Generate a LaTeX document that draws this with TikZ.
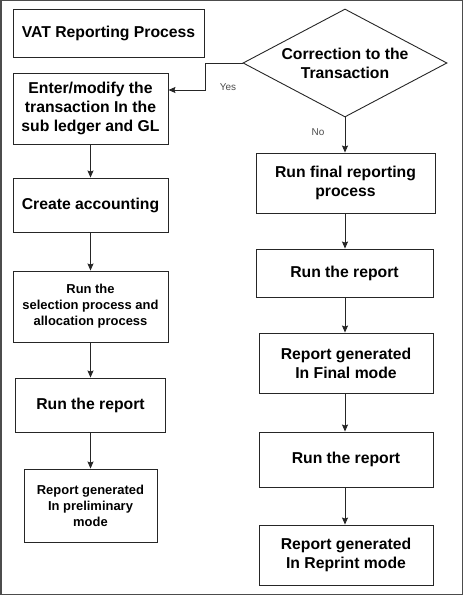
\documentclass[tikz,border=0pt]{standalone}
\usepackage{fontspec}
\setmainfont{Liberation Sans}
\usetikzlibrary{shapes.geometric,arrows.meta}

\begin{document}
\begin{tikzpicture}[x=1bp, y=-1bp,
    box/.style={shape=rectangle, draw=black!85, line width=0.9bp, align=center, inner sep=0pt, font=\bfseries\fontsize{15.8}{19}\selectfont},
    smallbox/.style={box, font=\bfseries\fontsize{13}{16}\selectfont},
    flow/.style={draw=black!85, line width=0.9bp, -{Stealth[length=7bp, width=6bp, inset=1bp]}},
    answer/.style={font=\fontsize{10}{12}\selectfont, text=black!70}]
    \draw[line width=1.5bp, draw=black!70] (0.75,0.75) rectangle (462.25,594.25);
    \useasboundingbox (0,0) rectangle (463,595);
    \node[box, minimum width=191bp, minimum height=48bp] (L0) at (108.5,33) {VAT Reporting Process};
    \node[box, minimum width=155bp, minimum height=71bp] (L1) at (90.5,108.5) {Enter/modify the\\transaction In the\\sub ledger and GL};
    \node[box, minimum width=155bp, minimum height=54bp] (L2) at (90.5,205) {Create accounting};
    \node[smallbox, minimum width=155bp, minimum height=71bp] (L3) at (90.5,306.5) {Run the\\selection process and\\allocation process};
    \node[box, minimum width=150bp, minimum height=54bp] (L4) at (90.5,405) {Run the report};
    \node[smallbox, minimum width=133bp, minimum height=73bp] (L5) at (90.5,505.5) {Report generated\\In preliminary\\mode};
    \node[shape=diamond, draw=black!85, line width=0.9bp, aspect=1.89, minimum width=204bp, minimum height=108bp, inner sep=0pt, align=center, font=\bfseries\fontsize{15.8}{19}\selectfont] (D) at (345,63) {Correction to the\\Transaction};
    \node[box, minimum width=179bp, minimum height=60bp] (R1) at (345.5,183) {Run final reporting\\process};
    \node[box, minimum width=177bp, minimum height=48bp] (R2) at (344.5,273) {Run the report};
    \node[box, minimum width=174bp, minimum height=60bp] (R3) at (346,363) {Report generated\\In Final mode};
    \node[box, minimum width=174bp, minimum height=55bp] (R4) at (346,459.5) {Run the report};
    \node[box, minimum width=174bp, minimum height=60bp] (R5) at (346,555) {Report generated\\In Reprint mode};
    \coordinate (Y) at (205,90);
    \draw[flow] (D.west) -| (Y) -- (Y -| L1.east);
        \node[answer] (YL) at (228,87) {Yes};
    \draw[flow] (D.south) -- (D.south |- R1.north);
        \node[answer] (NL) at (318,132) {No};
    \draw[flow] (L1) -- (L1 |- L2.north);
    \draw[flow] (L2) -- (L2 |- L3.north);
    \draw[flow] (L3) -- (L3 |- L4.north);
    \draw[flow] (L4) -- (L4 |- L5.north);
    \draw[flow] (D.south |- R1.south) -- (D.south |- R2.north);
    \draw[flow] (D.south |- R2.south) -- (D.south |- R3.north);
    \draw[flow] (D.south |- R3.south) -- (D.south |- R4.north);
    \draw[flow] (D.south |- R4.south) -- (D.south |- R5.north);
\end{tikzpicture}
\end{document}
